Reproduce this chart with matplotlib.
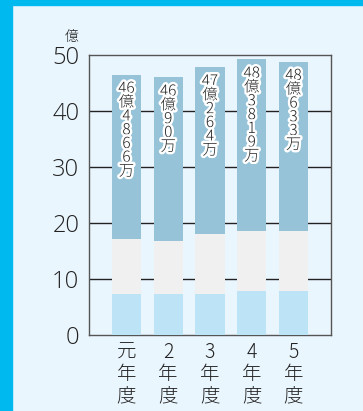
import numpy as np
import matplotlib.pyplot as plt
import matplotlib.patheffects as pe
from matplotlib.patches import Rectangle

plt.rcParams['font.family'] = ['Noto Sans CJK JP', 'DejaVu Sans']
num_font = ['Open Sans', 'Noto Sans CJK JP']

# data (units: 億)
years = ['元\n年\n度', '2\n年\n度', '3\n年\n度', '4\n年\n度', '5\n年\n度']
bottom_part = [7.3, 7.3, 7.3, 7.9, 7.9]
middle_top = [17.2, 16.8, 18.1, 18.6, 18.6]
totals = [46.5, 46.0, 47.8, 49.2, 48.8]
bar_labels = ['46\n億\n4\n8\n6\n6\n万', '46\n億\n9\n0\n万', '47\n億\n2\n6\n4\n万',
              '48\n億\n3\n8\n1\n9\n万', '48\n億\n6\n3\n3\n万']

bg = '#eaf6fd'
fig = plt.figure(figsize=(3.63, 4.11), dpi=100, facecolor=bg)
# blue frame strips
fig.patches.append(Rectangle((0, 0), 12/363, 1, transform=fig.transFigure, color='#00b9ef', zorder=0))
fig.patches.append(Rectangle((0, 1-5/411), 1, 5/411, transform=fig.transFigure, color='#00b9ef', zorder=0))

ax = fig.add_axes([89/363, 1-335/411, 242/363, 280/411])
ax.set_facecolor(bg)

x = np.arange(len(years))
w = 0.695
middle = np.array(middle_top) - np.array(bottom_part)
top = np.array(totals) - np.array(middle_top)
ax.bar(x, bottom_part, w, color='#bde3f7', zorder=3)
ax.bar(x, middle, w, bottom=bottom_part, color='#f0f0f0', zorder=3)
ax.bar(x, top, w, bottom=middle_top, color='#96c3d8', zorder=3)

for xi, t, lab in zip(x, totals, bar_labels):
    ax.text(xi, t - 1.3, lab, ha='center', va='top', fontsize=11, linespacing=0.98,
            color='#222222', fontweight='light', zorder=4,
            path_effects=[pe.withStroke(linewidth=3.5, foreground='white')])

ax.set_xlim(-0.898, 4.898)
ax.set_ylim(0, 50)
ax.set_yticks([0, 10, 20, 30, 40, 50])
ax.set_yticklabels(['0', '10', '20', '30', '40', '50'], fontsize=17, color='#222222',
                   fontweight='light', family=num_font)
ax.set_xticks(x)
ax.set_xticklabels(years, fontsize=14, linespacing=1.05, color='#222222', va='top',
                   fontweight='light')
ax.tick_params(axis='both', length=0)
ax.tick_params(axis='y', pad=7)
ax.tick_params(axis='x', pad=5)
for yv in [10, 20, 30, 40]:
    ax.axhline(yv, color='#222222', lw=1, zorder=1)
for s in ax.spines.values():
    s.set_color('#555555')
    s.set_linewidth(1)

fig.text(72/363, 1-37/411, '億', ha='center', va='center', fontsize=10, color='#222222',
         fontweight='light')

plt.savefig('out.png', dpi=100, facecolor=bg)
plt.close('all')
